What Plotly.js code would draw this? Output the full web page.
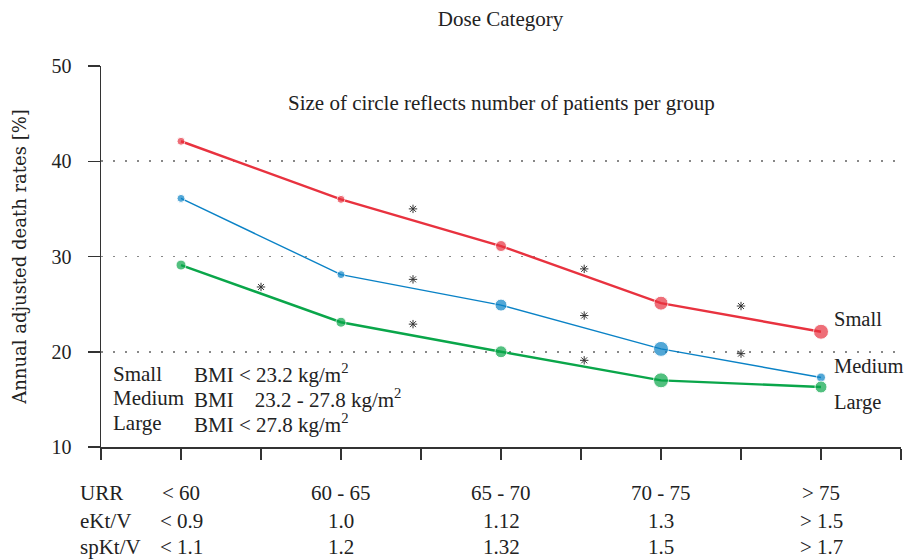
<!DOCTYPE html>
<html>
<head>
<meta charset="utf-8">
<script src="https://cdn.plot.ly/plotly-3.0.1.min.js"></script>
<style>html,body{margin:0;padding:0;background:#fff;}#chart{width:906px;height:560px;}</style>
</head>
<body>
<div id="chart"></div>
<script>
// ---- data ----
var categories = [1, 2, 3, 4, 5];
var smallRates = [42.1, 36.0, 31.1, 25.1, 22.1];
var mediumRates = [36.1, 28.1, 24.9, 20.3, 17.3];
var largeRates = [29.1, 23.1, 20.0, 17.0, 16.3];
var smallSizes = [8, 8, 11, 14, 15];
var mediumSizes = [8, 8, 12, 15, 9];
var largeSizes = [10, 10, 12, 15, 12];
var starX = [1.5, 2.45, 2.45, 2.45, 3.52, 3.52, 3.52, 4.5, 4.5];
var starY = [26.8, 35.0, 27.6, 22.9, 28.7, 23.8, 19.1, 24.8, 19.8];
var rowNames = ["URR", "eKt/V", "spKt/V"];
var urrLabels = ["< 60", "60 - 65", "65 - 70", "70 - 75", "> 75"];
var ektvLabels = ["< 0.9", "1.0", "1.12", "1.3", "> 1.5"];
var spktvLabels = ["< 1.1", "1.2", "1.32", "1.5", "> 1.7"];
var groupNames = ["Small", "Medium", "Large"];
var groupBMI = ["BMI < 23.2 kg/m<sup>2</sup>", "BMI&nbsp;&nbsp;&nbsp;&nbsp;23.2 - 27.8 kg/m<sup>2</sup>", "BMI < 27.8 kg/m<sup>2</sup>"];
var groupLabelY = [23.45, 18.5, 14.7];
var bmiRowY = [17.7, 15.1, 12.5];
var yTicks = [10, 20, 30, 40, 50];

var RED = "#E8323F", BLUE = "#0A82C6", GREEN = "#0AA64A";
var FONT = "Liberation Serif";
var TXT = "#222";

var traces = [
  {x: categories, y: smallRates, mode: "lines+markers", line: {color: RED, width: 2.4},
   marker: {color: RED, size: smallSizes}, hoverinfo: "skip"},
  {x: categories, y: mediumRates, mode: "lines+markers", line: {color: BLUE, width: 1.4},
   marker: {color: BLUE, size: mediumSizes}, hoverinfo: "skip"},
  {x: categories, y: largeRates, mode: "lines+markers", line: {color: GREEN, width: 2.4},
   marker: {color: GREEN, size: largeSizes}, hoverinfo: "skip"},
  {x: starX, y: starY, mode: "markers", marker: {symbol: "asterisk-open", size: 7, color: "#333", line: {color: "#333", width: 1}},
   hoverinfo: "skip"}
];

var ann = [];
ann.push({x: 3.0, y: 46.1, xref: "x", yref: "y", text: "Size of circle reflects number of patients per group",
  showarrow: false, font: {size: 21, color: TXT, family: FONT}});
for (var i = 0; i < groupNames.length; i++) {
  ann.push({x: 5.07, y: groupLabelY[i], xref: "x", yref: "y", text: groupNames[i], xanchor: "left",
    showarrow: false, font: {size: 20.5, color: TXT, family: FONT}});
  ann.push({x: 0.56, y: bmiRowY[i], xref: "x", yref: "y", text: groupNames[i], xanchor: "left",
    showarrow: false, font: {size: 21, color: TXT, family: FONT}});
  ann.push({x: 1.07, y: bmiRowY[i], xref: "x", yref: "y", text: groupBMI[i], xanchor: "left",
    showarrow: false, font: {size: 21, color: TXT, family: FONT}});
}
var rowY = [-0.121, -0.194, -0.262];
var rows = [urrLabels, ektvLabels, spktvLabels];
for (var r = 0; r < 3; r++) {
  ann.push({x: -0.029, y: rowY[r], xref: "paper", yref: "paper", text: rowNames[r], yanchor: "middle",
    showarrow: false, font: {size: 21, color: TXT, family: FONT}});
  for (var c = 0; c < categories.length; c++) {
    ann.push({x: categories[c], y: rowY[r], xref: "x", yref: "paper", text: rows[r][c], yanchor: "middle",
      showarrow: false, font: {size: 21, color: TXT, family: FONT}});
  }
}

var layout = {
  width: 906, height: 560,
  margin: {l: 101, r: 5, t: 66, b: 113},
  paper_bgcolor: "#fff", plot_bgcolor: "#fff",
  showlegend: false,
  font: {family: FONT, size: 21, color: TXT},
  title: {text: "Dose Category", x: 0.5525, xanchor: "center", y: 0.966, yanchor: "middle",
    font: {size: 21, color: TXT, family: FONT}},
  xaxis: {range: [0.5, 5.5], tickmode: "linear", tick0: 0.5, dtick: 0.5, showticklabels: false,
    ticks: "outside", ticklen: 11, tickwidth: 1.5, tickcolor: "#333",
    showline: true, linecolor: "#333", linewidth: 1.5, showgrid: false, zeroline: false, fixedrange: true},
  yaxis: {range: [10, 50], tickvals: yTicks, ticks: "outside", ticklen: 12, tickwidth: 1.5, tickcolor: "#333",
    showline: true, linecolor: "#333", linewidth: 1.5, showgrid: true, gridcolor: "#888", gridwidth: 1.6,
    griddash: "1.6px,10.4px", zeroline: false, tickfont: {size: 20, color: TXT, family: FONT},
    ticklabelstandoff: 12,
    title: {text: "Annual adjusted death rates [%]", standoff: 20, font: {size: 18, color: TXT, family: "DejaVu Serif"}},
    fixedrange: true},
  annotations: ann
};

Plotly.newPlot("chart", traces, layout, {displayModeBar: false, staticPlot: true});
</script>
</body>
</html>
